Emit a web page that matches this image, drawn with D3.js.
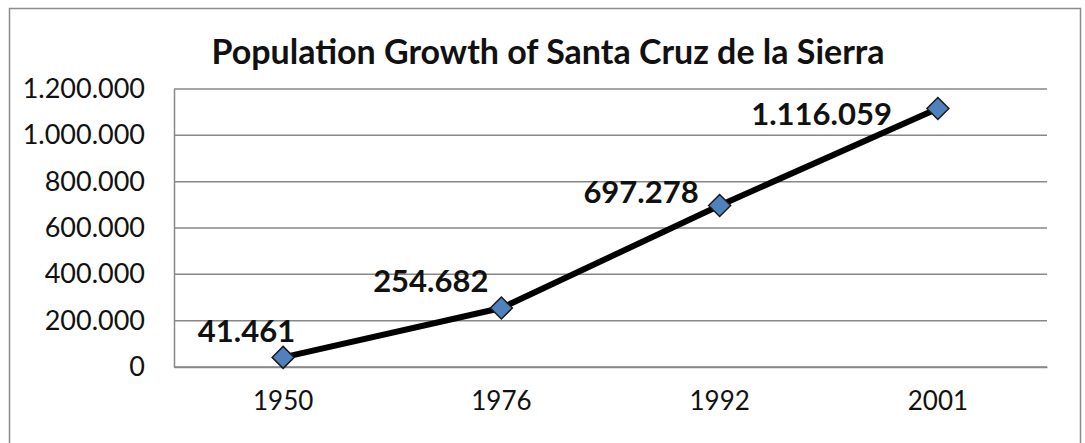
<!DOCTYPE html>
<html>
<head>
<meta charset="utf-8">
<script src="https://cdn.jsdelivr.net/npm/d3@7"></script>
<style>
  html, body { margin: 0; padding: 0; background: #fff; }
  svg { display: block; font-family: Lato, "Open Sans", sans-serif; }
</style>
</head>
<body>
<div class="chart"></div>
<script>
// data
const years = ['1950', '1976', '1992', '2001'];
const population = [41461, 254682, 697278, 1116059];
const yTicks = [0, 200000, 400000, 600000, 800000, 1000000, 1200000];
const title = 'Population Growth of Santa Cruz de la Sierra';

// label nudges (end anchor, relative to the point)
const labelDx = [12, -13, -21, -46];
const labelDy = [-15, -16, -2, 17];

const W = 1085, H = 443;
const margin = { top: 89, right: 38, bottom: 76, left: 174 };
const width = W - margin.left - margin.right;
const height = H - margin.top - margin.bottom;

const loc = d3.formatLocale({ decimal: ',', thousands: '.', grouping: [3], currency: ['', ''] });
const fmt = loc.format(',d');

const root = d3.select('.chart').append('svg')
    .attr('width', W)
    .attr('height', H);

// outer frame
root.append('rect')
    .attr('x', 9.5).attr('y', 8.5)
    .attr('width', 1071).attr('height', 460)
    .attr('fill', '#fff')
    .attr('stroke', '#8c8c8c')
    .attr('stroke-width', 1.5);

root.append('text')
    .attr('x', 548).attr('y', 64)
    .attr('text-anchor', 'middle')
    .attr('font-size', '34px')
    .attr('font-weight', 'bold')
    .attr('fill', '#111')
    .text(title);

const svg = root.append('g')
    .attr('transform', 'translate(' + margin.left + ',' + margin.top + ')');

let x = d3.scaleBand().domain(years).range([0, width]).padding(0);
let y = d3.scaleLinear().domain([0, 1200000]).range([height, 0]);
const cx = d => x(d) + x.bandwidth() / 2;

// gridlines
svg.selectAll('.grid')
    .data(yTicks)
    .enter()
    .append('line')
    .attr('x1', 0).attr('x2', width)
    .attr('y1', d => y(d)).attr('y2', d => y(d))
    .attr('stroke', '#878787')
    .attr('stroke-width', 1.5);

// y axis
const ya = svg.append('g')
    .call(d3.axisLeft(y).tickValues(yTicks).tickSize(0).tickPadding(29).tickFormat(fmt));
ya.select('.domain').attr('stroke', '#878787').attr('stroke-width', 1.5);
ya.selectAll('text').attr('font-size', '27px').attr('fill', '#111').attr('font-family', 'Lato, sans-serif');

// x axis
const xa = svg.append('g')
    .attr('transform', 'translate(0,' + height + ')')
    .call(d3.axisBottom(x).tickSize(0).tickPadding(25));
xa.select('.domain').attr('stroke', '#878787').attr('stroke-width', 1.5);
xa.selectAll('text').attr('font-size', '26px').attr('fill', '#111').attr('font-family', 'Lato, sans-serif');

// line
const line = d3.line()
    .x((d, i) => cx(years[i]))
    .y(d => y(d));
svg.append('path')
    .datum(population)
    .attr('d', line)
    .attr('fill', 'none')
    .attr('stroke', '#000')
    .attr('stroke-width', 6)
    .attr('stroke-linejoin', 'round');

// diamonds
svg.selectAll('.marker')
    .data(population)
    .enter()
    .append('path')
    .attr('d', 'M0,-11L11,0L0,11L-11,0Z')
    .attr('transform', (d, i) => 'translate(' + cx(years[i]) + ',' + y(d) + ')')
    .attr('fill', '#4f81bd')
    .attr('stroke', '#1a1a1a')
    .attr('stroke-width', 1.5);

// data labels
svg.selectAll('.lbl')
    .data(population)
    .enter()
    .append('text')
    .attr('x', (d, i) => cx(years[i]) + labelDx[i])
    .attr('y', (d, i) => y(d) + labelDy[i])
    .attr('text-anchor', 'end')
    .attr('font-size', '31px')
    .attr('font-weight', 'bold')
    .attr('fill', '#111')
    .text(d => fmt(d));
</script>
</body>
</html>
